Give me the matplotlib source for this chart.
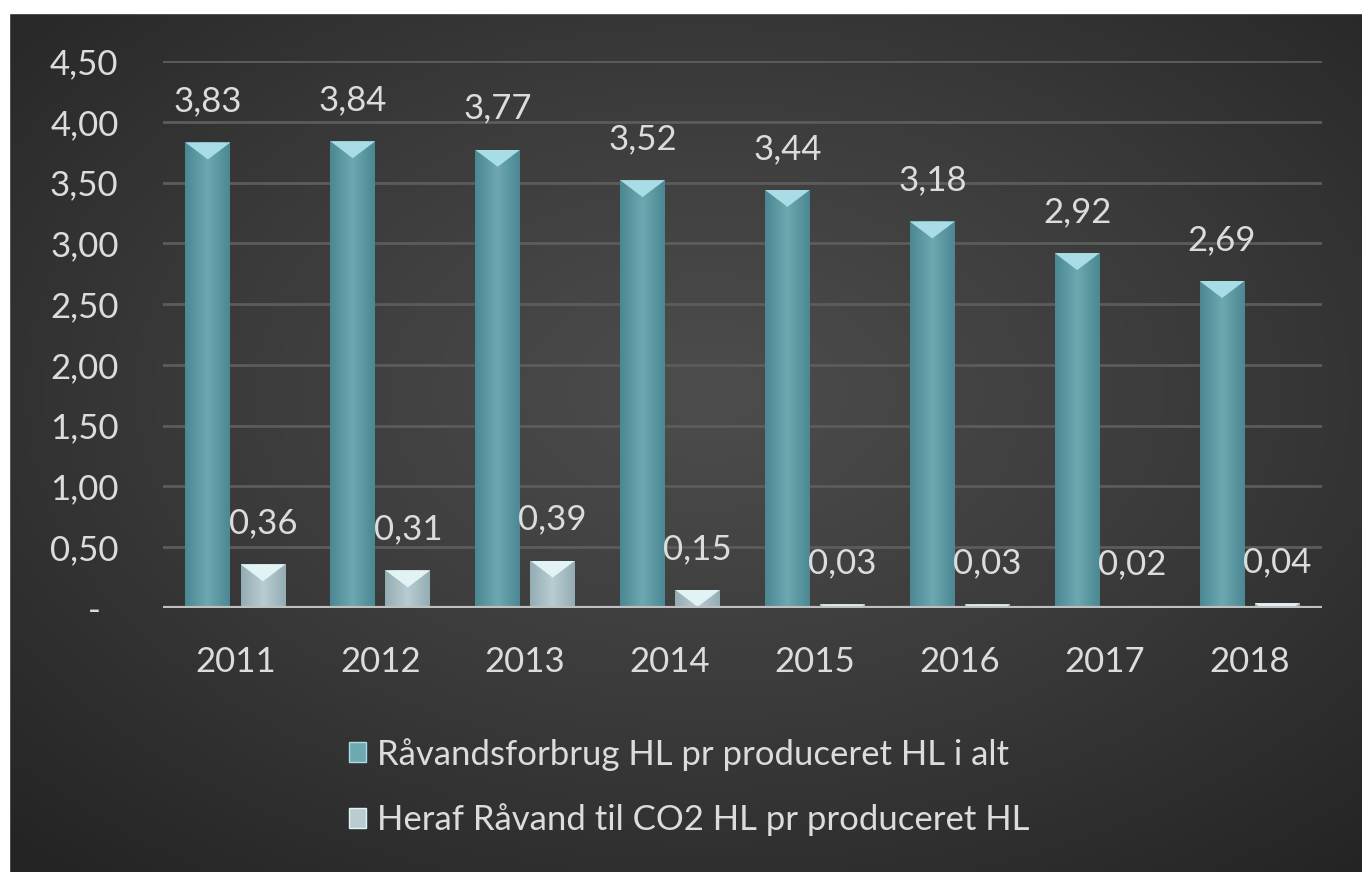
import numpy as np
import matplotlib
matplotlib.use("Agg")
import matplotlib.pyplot as plt
from matplotlib.colors import LinearSegmentedColormap
from matplotlib.patches import Patch, Rectangle

years = ["2011", "2012", "2013", "2014", "2015", "2016", "2017", "2018"]
total = [3.83, 3.84, 3.77, 3.52, 3.44, 3.18, 2.92, 2.69]
co2 = [0.36, 0.31, 0.39, 0.15, 0.03, 0.03, 0.02, 0.04]
series_names = ["Råvandsforbrug HL pr produceret HL i alt",
                "Heraf Råvand til CO2 HL pr produceret HL"]
yticks = [0, 0.5, 1.0, 1.5, 2.0, 2.5, 3.0, 3.5, 4.0, 4.5]

TEXT = "#dcdcdc"
FONT = "Lato"
FS = 25


def fmt(v):
    return f"{v:.2f}".replace(".", ",")


def shade_bar(ax, bar, edge, mid, top, depth):
    """fill a bar with a side gradient and a bevel triangle on top"""
    x0, y0 = bar.get_x(), bar.get_y()
    w, h = bar.get_width(), bar.get_height()
    cmap = LinearSegmentedColormap.from_list("b", [edge, mid, edge])
    grad = np.linspace(0, 1, 64).reshape(1, -1)
    im = ax.imshow(grad, cmap=cmap, extent=[x0, x0 + w, y0, y0 + h],
                   aspect="auto", zorder=3, interpolation="bicubic")
    im.set_clip_path(bar)
    tri = ax.fill([x0, x0 + w, x0 + w / 2], [h, h, h - depth],
                  color=top, zorder=4, lw=0)[0]
    tri.set_clip_path(bar)


fig = plt.figure(figsize=(13.62, 8.72), dpi=100)

# dark radial background
bg = fig.add_axes([0, 0, 1, 1], zorder=-10)
yy, xx = np.mgrid[0:1:300j, 0:1:470j]
r = np.sqrt(((xx - 0.52) / 0.75) ** 2 + ((yy - 0.45) / 0.75) ** 2)
bg_cmap = LinearSegmentedColormap.from_list("bg", ["#4d4d4d", "#3a3a3a", "#232323"])
bg.imshow(np.clip(r, 0, 1), cmap=bg_cmap, extent=[0, 1, 0, 1], aspect="auto",
          origin="upper", vmin=0, vmax=1)
bg.add_patch(Rectangle((0, 0), 9 / 1362, 1, color="white", transform=bg.transAxes))
bg.add_patch(Rectangle((0, 1 - 13 / 872), 1, 13 / 872, color="white", transform=bg.transAxes))
bg.set_xlim(0, 1)
bg.set_ylim(0, 1)
bg.axis("off")

ax = fig.add_axes([163 / 1362, 1 - 608 / 872, (1322 - 163) / 1362, (608 - 61) / 872])
ax.set_facecolor("none")

x = np.arange(len(years))
w = 0.31
gap = 0.07
bars1 = ax.bar(x - (w + gap) / 2, total, w, color="#5e9aa4", zorder=2)
bars2 = ax.bar(x + (w + gap) / 2, co2, w, color="#a9bfc4", zorder=2)

depth = 0.14
for b in bars1:
    shade_bar(ax, b, "#4b8893", "#6ea8b1", "#a9dde5", depth)
for b in bars2:
    shade_bar(ax, b, "#93adb3", "#b9cdd1", "#e2f3f6", depth)

for bars, vals in ((bars1, total), (bars2, co2)):
    for b, v in zip(bars, vals):
        ax.annotate(fmt(v), (b.get_x() + b.get_width() / 2, v),
                    xytext=(0, 18), textcoords="offset points",
                    ha="center", va="bottom", color=TEXT,
                    fontsize=FS, family=FONT)

ax.set_xlim(-0.5, len(years) - 0.5)
ax.set_ylim(0, 4.5)
ax.set_yticks(yticks)
ax.set_yticklabels(["-  "] + [fmt(t) for t in yticks[1:]])
ax.set_xticks(x)
ax.set_xticklabels(years)
ax.tick_params(axis="both", length=0, colors=TEXT, labelsize=FS)
ax.tick_params(axis="y", pad=32)
ax.tick_params(axis="x", pad=27)
for lab in ax.get_xticklabels() + ax.get_yticklabels():
    lab.set_family(FONT)

for t in yticks[1:]:
    ax.axhline(t, color="#5c5c5c", lw=2, zorder=1)
ax.axhline(0, color="#c0c0c0", lw=3, zorder=5)
for s in ax.spines.values():
    s.set_visible(False)

handles = [Patch(facecolor="#6ea8b1", edgecolor="#a9dde5", lw=1),
           Patch(facecolor="#b9cdd1", edgecolor="#e2f3f6", lw=1)]
leg = fig.legend(handles, series_names, loc="center", bbox_to_anchor=(0.506, 1 - 787 / 872),
                 frameon=False, prop={"family": FONT, "size": FS},
                 handlelength=0.5, handleheight=0.5, handletextpad=0.3,
                 labelspacing=0.95)
for t in leg.get_texts():
    t.set_color(TEXT)

fig.savefig("out.png", dpi=100)
